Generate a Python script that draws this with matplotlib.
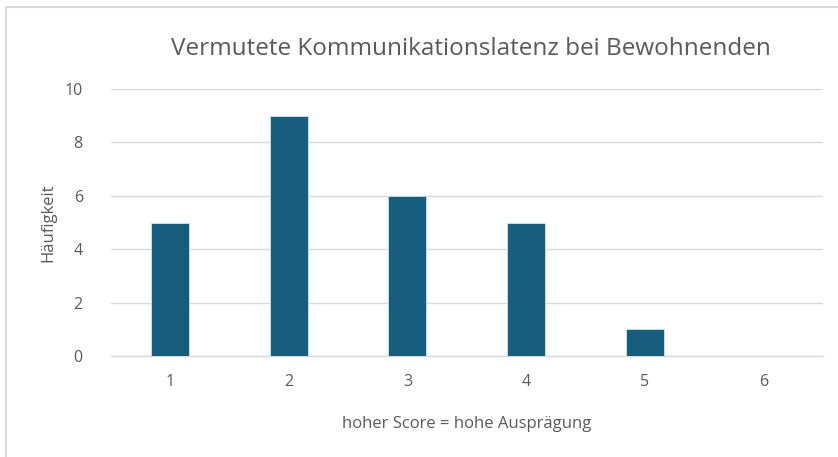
import matplotlib.pyplot as plt
from matplotlib.lines import Line2D

# Daten
scores = [1, 2, 3, 4, 5, 6]
counts = [5, 9, 6, 5, 1, 0]

bar_color = '#175e7e'
text_color = '#595959'
grid_color = '#d9d9d9'

fig = plt.figure(figsize=(8.38, 4.57), dpi=100)
ax = fig.add_axes([0.132, 0.221, 0.850, 0.584])

x = list(range(len(scores)))
ax.bar(x, counts, width=0.32, color=bar_color, edgecolor='#d0e4ee', linewidth=0.6, zorder=3)

ax.set_xlim(-0.5, len(scores) - 0.5)
ax.set_ylim(0, 10)
ax.set_yticks(range(0, 11, 2))
ax.set_xticks(x)
ax.set_xticklabels([str(s) for s in scores])

ax.grid(axis='y', color=grid_color, linewidth=1, zorder=0)
for side in ['top', 'right', 'left']:
    ax.spines[side].set_visible(False)
ax.spines['bottom'].set_color(grid_color)
ax.spines['bottom'].set_linewidth(1)
ax.tick_params(length=0, labelsize=11.5, colors=text_color, pad=13)
ax.tick_params(axis='y', pad=20)

ax.set_xlabel('hoher Score = hohe Ausprägung', fontsize=12, color=text_color, labelpad=19,
              family='Open Sans')
ax.set_ylabel('Häufigkeit', fontsize=12, color=text_color, labelpad=6, family='Open Sans')
for lbl in ax.get_xticklabels() + ax.get_yticklabels():
    lbl.set_family('Open Sans')

fig.text(0.562, 0.893, 'Vermutete Kommunikationslatenz bei Bewohnenden', ha='center', va='center',
         fontsize=17.5, color=text_color, family='Open Sans')

# Rahmen (nur links und oben sichtbar)
fig.lines.append(Line2D([0.007, 0.007], [0.0, 0.985], transform=fig.transFigure,
                        color='#d9d9d9', linewidth=1.5))
fig.lines.append(Line2D([0.007, 1.0], [0.985, 0.985], transform=fig.transFigure,
                        color='#d9d9d9', linewidth=1.5))

fig.savefig('out.png', dpi=100)
